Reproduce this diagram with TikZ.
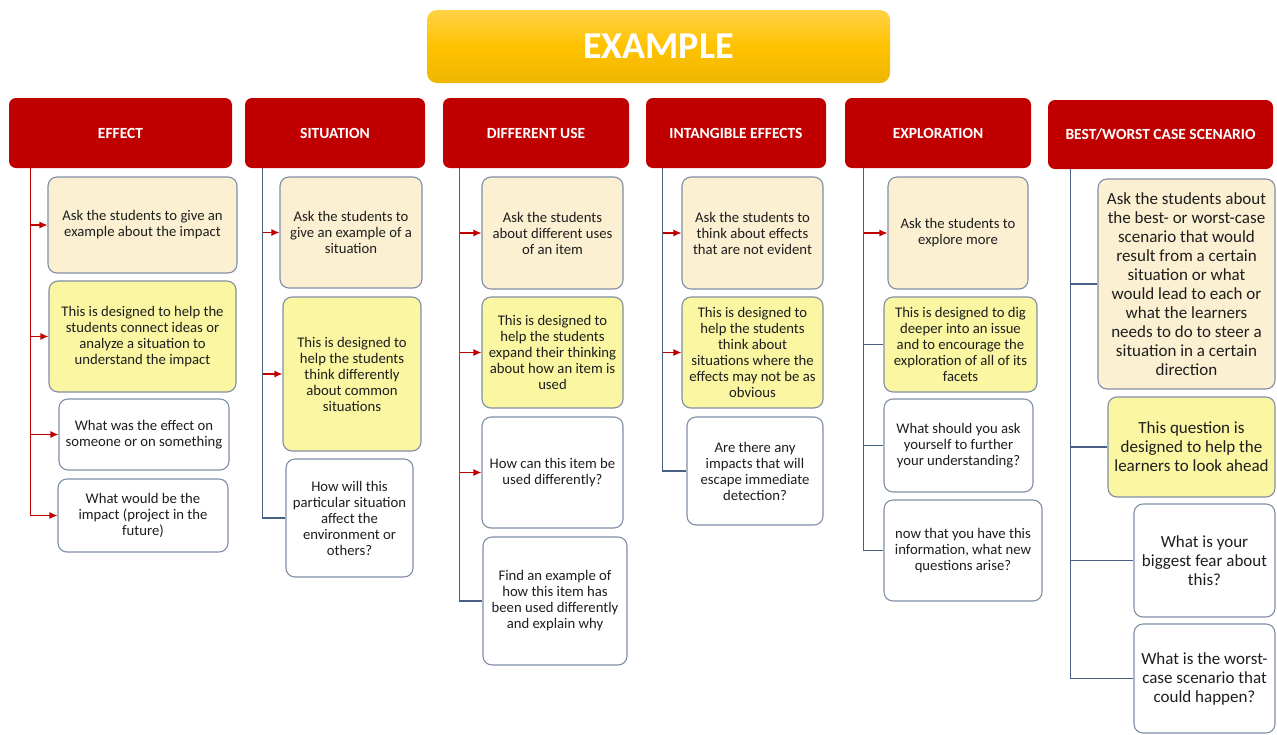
\documentclass[tikz,border=0pt]{standalone}
\usepackage{fontspec}
\setmainfont{Carlito}
\usepackage{tikz}
\usetikzlibrary{arrows.meta,positioning,calc}
\usepackage{xcolor}
\definecolor{headred}{RGB}{192,0,0}
\definecolor{goldtop}{RGB}{255,210,70}
\definecolor{goldmid}{RGB}{255,194,0}
\definecolor{goldbot}{RGB}{238,182,0}
\definecolor{askfill}{RGB}{252,240,210}
\definecolor{aimfill}{RGB}{250,246,162}
\definecolor{cardline}{RGB}{128,142,166}
\definecolor{trunkblue}{RGB}{72,96,132}
\definecolor{textgray}{RGB}{30,30,30}
\tikzset{
    titlebox/.style={rectangle, rounded corners=10pt, top color=goldtop, bottom color=goldbot, middle color=goldmid, text=white, font=\fontsize{38}{40}\selectfont\bfseries, minimum width=463, minimum height=73},
    head/.style={rectangle, rounded corners=7pt, fill=headred, text=white, font=\fontsize{15.5}{17}\selectfont\bfseries, minimum height=70},
    card/.style={rectangle, rounded corners=9pt, draw=cardline, line width=1.1pt, align=center, text=textgray, inner sep=0pt, font=\fontsize{14.7}{16}\selectfont},
    cardA/.style={card, fill=askfill},
    cardY/.style={card, fill=aimfill},
    cardW/.style={card, fill=white},
    bigtext/.style={font=\fontsize{17}{19}\selectfont},
    redleg/.style={line width=1.1pt, headred, -{Latex[length=8pt,width=7pt]}},
    trunkleg/.style={line width=1.1pt, trunkblue},
}

\begin{document}
\begin{tikzpicture}[x=1pt, y=-1pt]
    \useasboundingbox (0,0) rectangle (1277,734);

    \node[titlebox] (top) at (658.5, 46.5) {EXAMPLE};

    % Column heads
    \node[head, minimum width=223] (h1) at (120.5, 133) {EFFECT};
    \node[head, minimum width=180] (h2) at (335, 133) {SITUATION};
    \node[head, minimum width=186] (h3) at (536, 133) {DIFFERENT USE};
    \node[head, minimum width=180] (h4) at (736, 133) {INTANGIBLE EFFECTS};
    \node[head, minimum width=186] (h5) at (938, 133) {EXPLORATION};
    \node[head, minimum width=225, minimum height=69] (h6) at (1160.5, 134.5) {BEST/WORST CASE SCENARIO};

    \coordinate (t1) at ([xshift=22pt]h1.south west);
    \coordinate (t2) at ([xshift=18pt]h2.south west);
    \coordinate (t3) at ([xshift=17pt]h3.south west);
    \coordinate (t4) at ([xshift=17pt]h4.south west);
    \coordinate (t5) at ([xshift=19pt]h5.south west);
    \coordinate (t6) at ([xshift=23pt]h6.south west);

    % Effect
    \node[cardA, minimum width=189, minimum height=96] (e1) at (142.5, 225) {Ask the students to give an\\example about the impact};
    \node[cardY, minimum width=187, minimum height=111] (e2) at (142.5, 336.5) {This is designed to help the\\students connect ideas or\\analyze a situation to\\understand the impact};
    \node[cardW, minimum width=170, minimum height=71] (e3) at (144, 434.5) {What was the effect on\\someone or on something};
    \node[cardW, minimum width=170, minimum height=73] (e4) at (143, 515.5) {What would be the\\impact (project in the\\future)};
    \draw[redleg] (t1) |- (e4.west);
    \draw[redleg] (e1.west -| t1) -- (e1.west);
    \draw[redleg] (e2.west -| t1) -- (e2.west);
    \draw[redleg] (e3.west -| t1) -- (e3.west);

    % Situation
    \node[cardA, minimum width=142, minimum height=111] (s1) at (351, 232.5) {Ask the students to\\give an example of a\\situation};
    \node[cardY, minimum width=138, minimum height=154] (s2) at (352, 374) {This is designed to\\help the students\\think differently\\about common\\situations};
    \node[cardW, minimum width=127, minimum height=118] (s3) at (349.5, 518) {How will this\\particular situation\\affect the\\environment or\\others?};
    \draw[trunkleg] (t2) |- (s3.west);
    \draw[redleg] (s1.west -| t2) -- (s1.west);
    \draw[redleg] (s2.west -| t2) -- (s2.west);

    % Different use
    \node[cardA, minimum width=141, minimum height=112] (d1) at (552.5, 233) {Ask the students\\about different uses\\of an item};
    \node[cardY, minimum width=141, minimum height=111] (d2) at (552.5, 352.5) {This is designed to\\help the students\\expand their thinking\\about how an item is\\used};
    \node[cardW, minimum width=141, minimum height=111] (d3) at (552.5, 472.5) {How can this item be\\used differently?};
    \node[cardW, minimum width=144, minimum height=128] (d4) at (555, 601) {Find an example of\\how this item has\\been used differently\\and explain why};
    \draw[trunkleg] (t3) |- (d4.west);
    \draw[redleg] (d1.west -| t3) -- (d1.west);
    \draw[redleg] (d2.west -| t3) -- (d2.west);
    \draw[redleg] (d3.west -| t3) -- (d3.west);

    % Intangible effects
    \node[cardA, minimum width=141, minimum height=112] (i1) at (752.5, 233) {Ask the students to\\think about effects\\that are not evident};
    \node[cardY, minimum width=141, minimum height=111] (i2) at (752.5, 352.5) {This is designed to\\help the students\\think about\\situations where the\\effects may not be as\\obvious};
    \node[cardW, minimum width=136, minimum height=108] (i3) at (755, 471) {Are there any\\impacts that will\\escape immediate\\detection?};
    \draw[trunkleg] (t4) |- (i3.west);
    \draw[redleg] (i1.west -| t4) -- (i1.west);
    \draw[redleg] (i2.west -| t4) -- (i2.west);

    % Exploration
    \node[cardA, minimum width=140, minimum height=112] (x1) at (958, 233) {Ask the students to\\explore more};
    \node[cardY, minimum width=153, minimum height=95] (x2) at (960.5, 344.5) {This is designed to dig\\deeper into an issue\\and to encourage the\\exploration of all of its\\facets};
    \node[cardW, minimum width=149, minimum height=93] (x3) at (958.5, 445.5) {What should you ask\\yourself to further\\your understanding?};
    \node[cardW, minimum width=158, minimum height=101] (x4) at (963, 550.5) {now that you have this\\information, what new\\questions arise?};
    \draw[trunkleg] (t5) |- (x4.west);
    \draw[trunkleg] (x2.west -| t5) -- (x2.west);
    \draw[trunkleg] (x3.west -| t5) -- (x3.west);
    \draw[redleg] (x1.west -| t5) -- (x1.west);

    % Best / worst case
    \node[cardA, bigtext, minimum width=177, minimum height=210] (b1) at (1186.5, 284) {Ask the students about\\the best- or worst-case\\scenario that would\\result from a certain\\situation or what\\would lead to each or\\what the learners\\needs to do to steer a\\situation in a certain\\direction};
    \node[cardY, bigtext, minimum width=167, minimum height=100] (b2) at (1191.5, 447) {This question is\\designed to help the\\learners to look ahead};
    \node[cardW, bigtext, minimum width=141, minimum height=113] (b3) at (1204.5, 560.5) {What is your\\biggest fear about\\this?};
    \node[cardW, bigtext, minimum width=141, minimum height=109] (b4) at (1204.5, 678.5) {What is the worst-\\case scenario that\\could happen?};
    \draw[trunkleg] (t6) |- (b4.west);
    \draw[trunkleg] (b1.west -| t6) -- (b1.west);
    \draw[trunkleg] (b2.west -| t6) -- (b2.west);
    \draw[trunkleg] (b3.west -| t6) -- (b3.west);
\end{tikzpicture}
\end{document}
